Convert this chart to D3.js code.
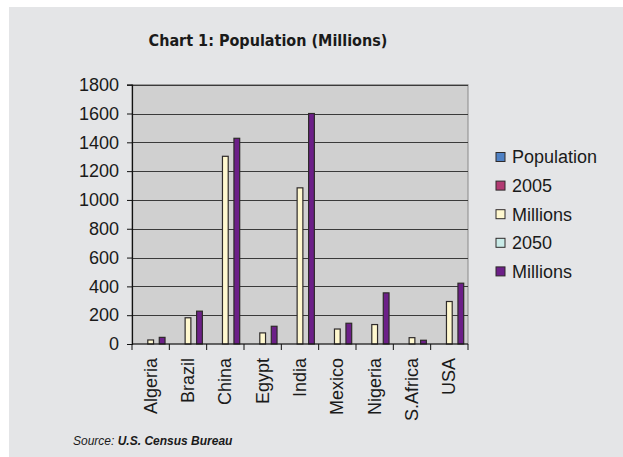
<!DOCTYPE html>
<html>
<head>
<meta charset="utf-8">
<script src="https://cdn.jsdelivr.net/npm/d3@7"></script>
<style>
  html, body { margin: 0; padding: 0; background: #ffffff; }
  svg { display: block; }
</style>
</head>
<body>
<svg id="chart" width="623" height="457"></svg>
<script>
// Population by country, millions
const categories = ["Algeria", "Brazil", "China", "Egypt", "India", "Mexico", "Nigeria", "S.Africa", "USA"];
const seriesNames = ["Population", "2005", "Millions", "2050", "Millions"];
const millions2005 = [28, 182, 1303, 77, 1084, 104, 135, 44, 295];
const millions2050 = [46, 228, 1428, 123, 1600, 144, 355, 26, 422];
const yTicks = [0, 200, 400, 600, 800, 1000, 1200, 1400, 1600, 1800];

// The header rows of the worksheet were picked up as series with no values
const seriesValues = [[], [], millions2005, [], millions2050];
const seriesColors = ["#4f81c4", "#b23a72", "#fff8cf", "#c9ebe8", "#6c1f88"];

const svg = d3.select("#chart");
const font = "Liberation Sans, Arial, sans-serif";

// Panel background
svg.append("rect").attr("x", 9).attr("y", 7).attr("width", 614).attr("height", 450).attr("fill", "#e4e5e7");

const plot = { left: 132, right: 468, top: 84.7, bottom: 344 };

const x = d3.scaleBand().domain(categories).range([plot.left, plot.right]).padding(0);
const xs = d3.scaleBand().domain(d3.range(seriesNames.length)).range([0, x.bandwidth()])
  .paddingInner(0).paddingOuter(0.75);
const y = d3.scaleLinear().domain([0, 1800]).range([plot.bottom, plot.top]);

// Plot area
svg.append("rect")
  .attr("x", plot.left).attr("y", plot.top)
  .attr("width", plot.right - plot.left).attr("height", plot.bottom - plot.top)
  .attr("fill", "#d0d0d0").attr("stroke", "#8a8a8a").attr("stroke-width", 1);

// Gridlines
svg.append("g").selectAll("line").data(yTicks.filter(d => d > 0)).join("line")
  .attr("x1", plot.left).attr("x2", plot.right)
  .attr("y1", d => Math.round(y(d)) + 0.5).attr("y2", d => Math.round(y(d)) + 0.5)
  .attr("stroke", "#3a3a3a").attr("stroke-width", 1.2);

// Bars
const groups = svg.append("g").selectAll("g").data(seriesValues).join("g")
  .attr("fill", (d, i) => seriesColors[i]);
groups.selectAll("rect")
  .data((vals, si) => vals.map((v, ci) => ({ v, ci, si })))
  .join("rect")
  .attr("x", d => x(categories[d.ci]) + xs(d.si))
  .attr("width", xs.bandwidth())
  .attr("y", d => y(d.v))
  .attr("height", d => y(0) - y(d.v))
  .attr("stroke", "#2e2a2a").attr("stroke-width", 1.2);

// Y axis
const yAxis = d3.axisLeft(y).tickValues(yTicks).tickSize(5).tickPadding(8).tickFormat(d3.format("d"));
const gy = svg.append("g").attr("transform", `translate(${plot.left},0)`).call(yAxis);
gy.select(".domain").attr("stroke", "#111").attr("stroke-width", 1.2);
gy.selectAll(".tick line").attr("stroke", "#111");
gy.selectAll(".tick text").attr("font-family", font).attr("font-size", 18).attr("fill", "#1a1a1a");

// X axis: ticks at category boundaries, labels rotated
const gx = svg.append("g").attr("transform", `translate(0,${plot.bottom})`);
gx.append("line").attr("x1", plot.left).attr("x2", plot.right).attr("y1", 0).attr("y2", 0)
  .attr("stroke", "#111").attr("stroke-width", 1.2);
const bounds = categories.map(c => x(c)).concat([plot.right]);
gx.selectAll("line.tk").data(bounds).join("line").attr("class", "tk")
  .attr("x1", d => d).attr("x2", d => d).attr("y1", 0).attr("y2", 6)
  .attr("stroke", "#111");
gx.selectAll("text").data(categories).join("text")
  .attr("transform", d => `translate(${x(d) + x.bandwidth() / 2 + 6},14) rotate(-90)`)
  .attr("text-anchor", "end")
  .attr("font-family", font).attr("font-size", 18).attr("fill", "#1a1a1a")
  .text(d => d);

// Title
svg.append("text").attr("x", 268).attr("y", 46).attr("text-anchor", "middle")
  .attr("font-family", "DejaVu Sans Condensed, DejaVu Sans, sans-serif")
  .attr("font-weight", "bold").attr("font-size", 16).attr("fill", "#1a1a1a")
  .text("Chart 1: Population (Millions)");

// Legend
const legend = svg.append("g").selectAll("g").data(seriesNames).join("g")
  .attr("transform", (d, i) => `translate(496,${157 + i * 28.6})`);
legend.append("rect").attr("x", 0).attr("y", -4.5).attr("width", 9).attr("height", 9)
  .attr("fill", (d, i) => seriesColors[i]).attr("stroke", "#2e2a2a").attr("stroke-width", 1);
legend.append("text").attr("x", 16).attr("y", 0).attr("dy", "0.35em")
  .attr("font-family", font).attr("font-size", 18).attr("fill", "#1a1a1a")
  .text(d => d);

// Source note
const src = svg.append("text").attr("x", 73).attr("y", 445)
  .attr("font-family", font).attr("font-size", 12).attr("font-style", "italic").attr("fill", "#1a1a1a");
src.append("tspan").text("Source: ");
src.append("tspan").attr("font-weight", "bold").text("U.S. Census Bureau");
</script>
</body>
</html>
